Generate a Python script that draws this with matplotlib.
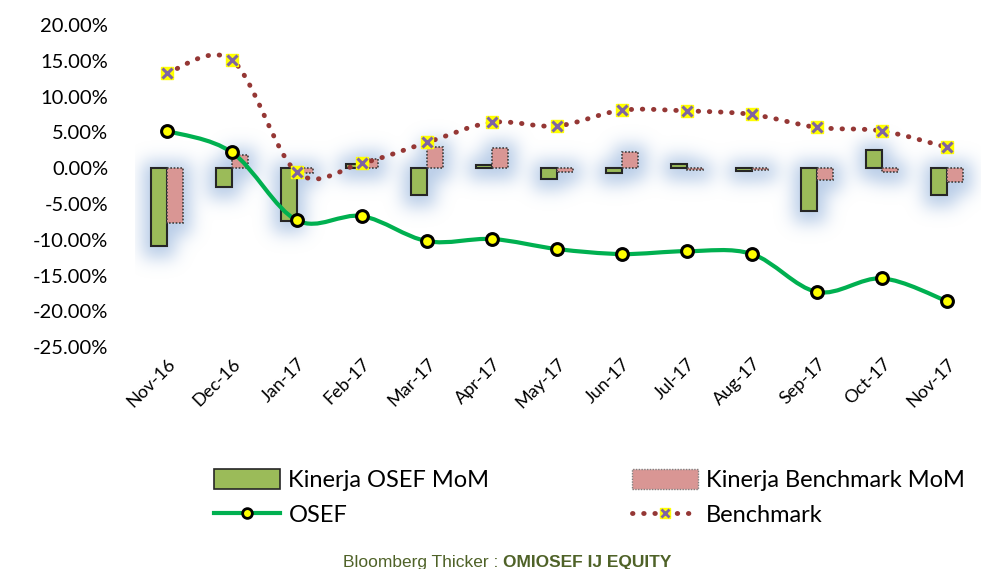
import matplotlib
matplotlib.use("Agg")
import matplotlib.pyplot as plt
from matplotlib.patches import Rectangle, PathPatch
from matplotlib.path import Path
from matplotlib.lines import Line2D
from matplotlib.legend_handler import HandlerTuple
import numpy as np

plt.rcParams["font.family"] = ["Lato", "DejaVu Sans"]

months = ["Nov-16", "Dec-16", "Jan-17", "Feb-17", "Mar-17", "Apr-17", "May-17",
          "Jun-17", "Jul-17", "Aug-17", "Sep-17", "Oct-17", "Nov-17"]
osef_mom = [-10.9, -2.7, -7.4, 0.6, -3.8, 0.5, -1.5, -0.7, 0.6, -0.4, -6.0, 2.5, -3.8]
bench_mom = [-7.7, 1.8, -0.7, 1.3, 2.9, 2.8, -0.5, 2.2, -0.2, -0.2, -1.6, -0.6, -2.0]
osef = [5.2, 2.2, -7.3, -6.7, -10.2, -9.9, -11.3, -12.0, -11.6, -12.0, -17.3, -15.4, -18.6]
bench = [13.3, 15.1, -0.6, 0.7, 3.6, 6.4, 5.9, 8.1, 8.0, 7.5, 5.7, 5.2, 2.9]
yticks = [20, 15, 10, 5, 0, -5, -10, -15, -20, -25]

GREEN_BAR = "#9BBB59"
PINK_BAR = "#D99694"
LINE_GREEN = "#00B050"
DARK_RED = "#953735"
GLOW = np.array([0.66, 0.76, 0.89])


def smooth_path(x, y):
    pts = np.column_stack([x, y]).astype(float)
    ext = np.vstack([pts[0], pts, pts[-1]])
    verts = [pts[0]]
    codes = [Path.MOVETO]
    for i in range(len(pts) - 1):
        p0, p1, p2, p3 = ext[i], ext[i + 1], ext[i + 2], ext[i + 3]
        c1 = p1 + (p2 - p0) / 6.0
        c2 = p2 - (p3 - p1) / 6.0
        verts += [c1, c2, p2]
        codes += [Path.CURVE4] * 3
    return Path(verts, codes)


def blur(img, sigma):
    r = int(3 * sigma)
    k = np.exp(-0.5 * (np.arange(-r, r + 1) / sigma) ** 2)
    k /= k.sum()
    img = np.apply_along_axis(lambda v: np.convolve(v, k, mode="same"), 0, img)
    img = np.apply_along_axis(lambda v: np.convolve(v, k, mode="same"), 1, img)
    return img


fig = plt.figure(figsize=(9.92, 5.69), dpi=100)
ax = fig.add_axes([0.1356, 0.39, 0.852, 0.566])
x = np.arange(len(months))
xlim = (-0.5, len(months) - 0.5)
ylim = (-25, 20)
ax.set_xlim(*xlim)
ax.set_ylim(*ylim)

w = 0.25

# soft blue glow behind the bars, rendered as a blurred mask (slightly shifted down)
W, H = int(0.852 * 992), int(0.566 * 569)
mask = np.zeros((H, W))
for xi, a, b in zip(x, osef_mom, bench_mom):
    for left, val in [(xi - w, a), (xi, b)]:
        lo, hi = min(0, val), max(0, val)
        c0 = int((left - xlim[0]) / (xlim[1] - xlim[0]) * W) - 8
        c1 = int((left + w - xlim[0]) / (xlim[1] - xlim[0]) * W) + 8
        r0 = int((ylim[1] - hi) / (ylim[1] - ylim[0]) * H) - 6
        r1 = int((ylim[1] - lo) / (ylim[1] - ylim[0]) * H) + 12
        mask[max(r0, 0):r1, max(c0, 0):c1] = 1.0
mask = np.clip(blur(mask, 8.5) * 1.1, 0, 1)
rgba = np.zeros((H, W, 4))
rgba[..., :3] = GLOW
rgba[..., 3] = mask * 0.75
ax.imshow(rgba, extent=(xlim[0], xlim[1], ylim[0], ylim[1]), aspect="auto",
          interpolation="bilinear", zorder=1)

ax.bar(x - w / 2, osef_mom, width=w, color=GREEN_BAR, edgecolor="#262626",
       linewidth=1.5, zorder=3)
ax.bar(x + w / 2, bench_mom, width=w, color=PINK_BAR, edgecolor="#404040",
       linewidth=1.2, linestyle=(0, (1, 1)), zorder=3)

ax.add_patch(PathPatch(smooth_path(x, bench), facecolor="none", edgecolor=DARK_RED,
                       linewidth=3.5, linestyle=(0, (0.1, 2.2)), capstyle="round", zorder=4))
ax.plot(x, bench, linestyle="none", marker="s", markersize=8, markerfacecolor="#FFFF00",
        markeredgecolor="#FFFF00", zorder=5)
ax.plot(x, bench, linestyle="none", marker="x", markersize=6.5, markeredgecolor="#7F64A2",
        markeredgewidth=2.2, zorder=6)

ax.add_patch(PathPatch(smooth_path(x, osef), facecolor="none", edgecolor=LINE_GREEN,
                       linewidth=3, zorder=4))
ax.plot(x, osef, linestyle="none", marker="o", markersize=8.5, markerfacecolor="#FFFF00",
        markeredgecolor="black", markeredgewidth=2.2, zorder=6)

ax.set_yticks(yticks)
ax.set_yticklabels([f"{v:.2f}%" for v in yticks], fontsize=14.5)
ax.set_xticks(x)
ax.set_xticklabels(months, rotation=45, ha="right", rotation_mode="anchor", fontsize=13)
ax.tick_params(length=0)
ax.tick_params(axis="y", pad=19)
ax.tick_params(axis="x", pad=6)
for s in ax.spines.values():
    s.set_visible(False)

h_green = Rectangle((0, 0), 1, 1, facecolor=GREEN_BAR, edgecolor="#262626", linewidth=1.2)
h_pink = Rectangle((0, 0), 1, 1, facecolor=PINK_BAR, edgecolor="#808080", linewidth=1,
                   linestyle=(0, (1, 1)))
h_osef = Line2D([], [], color=LINE_GREEN, linewidth=3, marker="o", markersize=7,
                markerfacecolor="#FFFF00", markeredgecolor="black", markeredgewidth=2)
h_bench_line = Line2D([], [], color=DARK_RED, linewidth=3.5, linestyle=(0, (0.1, 2.2)),
                      dash_capstyle="round")
h_bench_sq = Line2D([], [], linestyle="none", marker="s", markersize=7,
                    markerfacecolor="#FFFF00", markeredgecolor="#FFFF00")
h_bench_x = Line2D([], [], linestyle="none", marker="x", markersize=5.5,
                   markeredgecolor="#7F64A2", markeredgewidth=2)

leg_kw = dict(frameon=False, fontsize=17, handlelength=2.8, handleheight=0.9,
              handletextpad=0.35, labelspacing=0.55, borderaxespad=0, borderpad=0)
fig.legend([h_green, h_osef], ["Kinerja OSEF MoM", "OSEF"], loc="upper left",
           bbox_to_anchor=(214 / 992, 1 - 469 / 569), **leg_kw)
fig.legend([h_pink, (h_bench_line, h_bench_sq, h_bench_x)],
           ["Kinerja Benchmark MoM", "Benchmark"], loc="upper left",
           bbox_to_anchor=(632 / 992, 1 - 469 / 569),
           handler_map={tuple: HandlerTuple(ndivide=1, pad=0)}, **leg_kw)

ft = ["Liberation Sans", "DejaVu Sans"]
fig.text(0.507, 1 - 567 / 569, "Bloomberg Thicker : ", ha="right", va="baseline",
         fontsize=12.5, color="#4F6228", family=ft)
fig.text(0.507, 1 - 567 / 569, "OMIOSEF IJ EQUITY", ha="left", va="baseline",
         fontsize=12.5, color="#4F6228", fontweight="bold", family=ft)

fig.savefig("out.png", dpi=100)
